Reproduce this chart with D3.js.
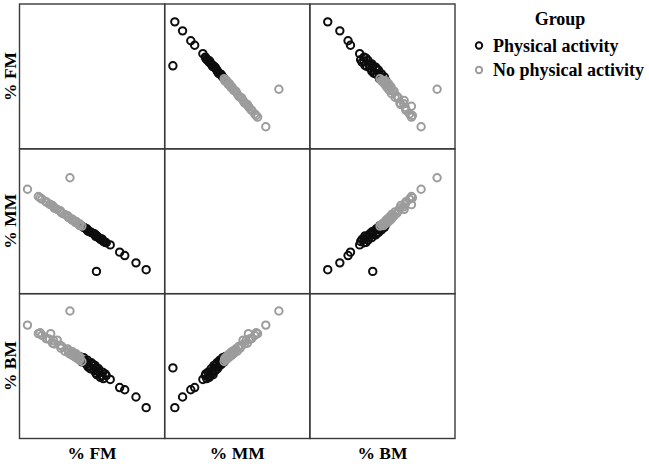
<!DOCTYPE html>
<html>
<head>
<meta charset="utf-8">
<script src="https://cdn.jsdelivr.net/npm/d3@7"></script>
<style>
  body { margin: 0; background: #fff; }
  text { font-family: "Liberation Serif", "Times New Roman", serif; font-weight: bold; }
</style>
</head>
<body>
<div id="chart"></div>
<script>
// variables of the matrix
const variables = ['% FM', '% MM', '% BM'];
const domains = [[10, 50], [25, 55], [2.5, 5.5]];

// group: Physical activity
const fmActive = [44.9, 42.1, 39.0, 37.6, 35.0, 31.2, 33.9, 33.1, 32.9, 32.7, 31.8, 31.0, 30.8, 30.6, 29.8, 28.9,
  28.7, 28.5, 27.7, 27.2, 26.6, 33.6, 32.3, 31.6, 30.9, 29.5, 28.5, 27.9, 30.3, 31.3, 28.9];
const mmActive = [27.1, 28.7, 30.4, 31.2, 32.9, 26.7, 33.4, 33.7, 34.0, 34.3, 34.6, 34.9, 35.2, 35.5, 35.8, 36.1,
  36.4, 36.7, 37.0, 37.3, 37.6, 33.5, 34.2, 34.7, 35.3, 35.9, 36.5, 36.9, 35.6, 35.0, 36.3];
const bmActive = [2.87, 3.12, 3.29, 3.34, 3.53, 3.80, 3.62, 3.55, 3.70, 3.62, 3.78, 3.68, 3.86, 3.74, 3.92, 3.82,
  3.98, 3.88, 4.04, 3.94, 4.07, 3.66, 3.58, 3.72, 3.80, 3.78, 3.93, 3.96, 3.88, 3.64, 3.85];

// group: No physical activity
const fmInactive = [27.2, 26.6, 26.6, 26.6, 26.1, 25.5, 25.6, 25.6, 25.1, 24.5, 24.6, 24.6, 24.0, 23.5, 23.5, 23.3,
  22.5, 21.7, 21.4, 21.2, 20.4, 19.6, 19.4, 19.1, 18.3, 17.3, 16.2, 15.7, 15.2, 18.6, 17.6, 12.2, 23.9];
const mmInactive = [37.3, 37.4, 37.6, 37.8, 37.9, 38.1, 38.2, 38.4, 38.5, 38.7, 38.8, 38.9, 39.1, 39.3, 39.4, 39.7,
  40.0, 40.3, 40.6, 40.9, 41.2, 41.5, 41.8, 42.1, 42.4, 43.0, 43.6, 43.9, 44.2, 42.3, 42.8, 45.9, 48.6];
const bmInactive = [3.95, 4.02, 3.98, 4.06, 4.01, 4.10, 4.04, 4.13, 4.07, 4.16, 4.09, 4.18, 4.12, 4.21, 4.15, 4.24,
  4.19, 4.30, 4.26, 4.33, 4.45, 4.36, 4.44, 4.38, 4.47, 4.49, 4.56, 4.62, 4.60, 4.60, 4.48, 4.80, 5.13];

const groups = ['Physical activity', 'No physical activity'];
const groupColors = { 'Physical activity': '#0d0d0d', 'No physical activity': '#9c9c9c' };

const points = [];
fmActive.forEach((d, i) => points.push({ group: groups[0], v: [d, mmActive[i], bmActive[i]] }));
fmInactive.forEach((d, i) => points.push({ group: groups[1], v: [d, mmInactive[i], bmInactive[i]] }));

const width = 649, height = 464;
const gridLeft = 19.5, gridTop = 4, gridRight = 455, gridBottom = 438.5;
const cw = (gridRight - gridLeft) / 3;
const ch = (gridBottom - gridTop) / 3;

const svg = d3.select('#chart')
    .append('svg')
    .attr('width', width)
    .attr('height', height);

// scales for each variable, x per column and y per row
const xScales = domains.map((dom, i) => d3.scaleLinear()
    .domain(dom)
    .range([gridLeft + i * cw, gridLeft + (i + 1) * cw]));
const yScales = domains.map((dom, i) => d3.scaleLinear()
    .domain(dom)
    .range([gridTop + (i + 1) * ch - 15, gridTop + (i + 1) * ch - 15 - 0.886 * ch]));

// points for off-diagonal cells
for (let r = 0; r < 3; r++) {
    for (let c = 0; c < 3; c++) {
        if (r === c) continue;
        svg.append('g')
            .selectAll('circle')
            .data(points)
            .enter()
            .append('circle')
            .attr('cx', d => xScales[c](d.v[c]))
            .attr('cy', d => yScales[r](d.v[r]))
            .attr('r', 3.7)
            .style('fill', 'none')
            .style('stroke', d => groupColors[d.group])
            .style('stroke-width', 2);
    }
}

// cell frames
const frame = svg.append('g');
for (let r = 0; r < 3; r++) {
    for (let c = 0; c < 3; c++) {
        frame.append('rect')
            .attr('x', gridLeft + c * cw)
            .attr('y', gridTop + r * ch)
            .attr('width', cw)
            .attr('height', ch)
            .style('fill', 'none')
            .style('stroke', '#3a3a3a')
            .style('stroke-width', 1.4);
    }
}

// variable labels
variables.forEach((name, i) => {
    svg.append('text')
        .attr('x', gridLeft + (i + 0.5) * cw)
        .attr('y', 459)
        .attr('text-anchor', 'middle')
        .style('font-size', '17.5px')
        .text(name);
    svg.append('text')
        .attr('transform', `translate(16,${gridTop + (i + 0.5) * ch}) rotate(-90)`)
        .attr('text-anchor', 'middle')
        .style('font-size', '17.5px')
        .text(name);
});

// legend
const legend = svg.append('g');
legend.append('text')
    .attr('x', 560)
    .attr('y', 25)
    .attr('text-anchor', 'middle')
    .style('font-size', '18px')
    .text('Group');
groups.forEach((g, i) => {
    legend.append('circle')
        .attr('cx', 479)
        .attr('cy', 45.5 + i * 24.5)
        .attr('r', 3.2)
        .style('fill', 'none')
        .style('stroke', groupColors[g])
        .style('stroke-width', 1.9);
    legend.append('text')
        .attr('x', 493)
        .attr('y', 51.5 + i * 24.5)
        .style('font-size', '18px')
        .text(g);
});
</script>
</body>
</html>
